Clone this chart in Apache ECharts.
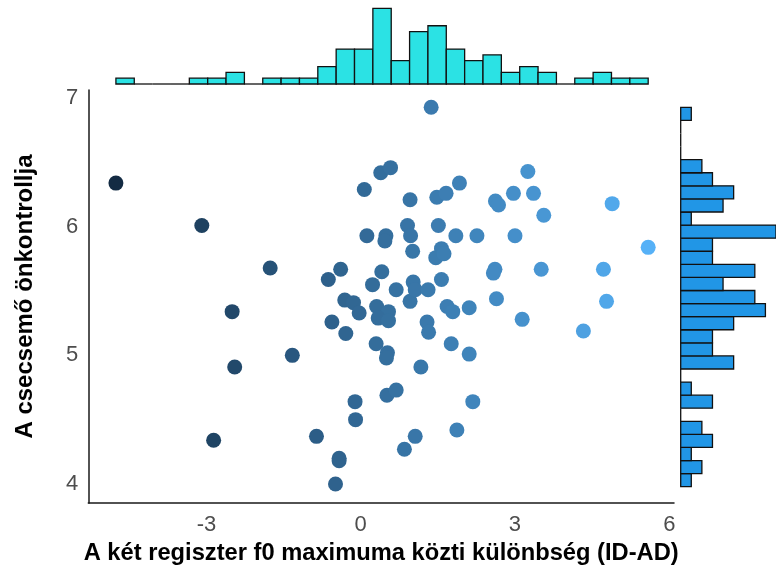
<!DOCTYPE html>
<html><head><meta charset="utf-8">
<script src="https://cdn.jsdelivr.net/npm/echarts@6/dist/echarts.min.js"></script>
<style>html,body{margin:0;padding:0;background:#fff}#c{width:776px;height:570px}</style>
</head><body><div id="c"></div>
<script>
// Difference of f0 maxima between registers (ID-AD)
const xValues = [
  -4.76, -3.09, -1.76, -2.50, -2.45, -1.33, -2.86, -0.86, -0.42, -0.42,
  -0.49, -0.11, -0.10, 0.07, 0.39, 0.58, 0.12, 0.49, -0.39, -0.63,
  0.41, 0.23, -0.31, -0.14, -0.03, -0.56, -0.29, 0.31, 0.54, 0.34,
  0.54, 0.30, 0.52, 0.51, 0.69, 0.96, 1.29, 1.32, 1.68, 1.79,
  2.11, 2.64, 3.14, 4.33, 4.78, 1.76, 2.11, 1.17, 2.18, 1.87,
  1.06, 0.85, 1.37, 0.96, 1.48, 1.66, 1.92, 3.25, 2.62, 2.68,
  2.97, 3.36, 3.56, 4.89, 0.91, 0.97, 1.51, 1.85, 2.26, 3.00,
  1.01, 1.57, 1.46, 1.62, 5.59, 2.61, 2.58, 3.51, 4.72, 1.02,
  1.06, 0.69, 1.31, 1.57, 0.47, 0.50
];
// Infant self-control
const yValues = [
  6.34, 6.01, 5.68, 5.34, 4.91, 5.00, 4.34, 4.37, 4.20, 4.18,
  4.00, 4.64, 4.50, 6.29, 6.42, 6.46, 5.93, 5.93, 5.67, 5.59,
  5.65, 5.55, 5.43, 5.41, 5.33, 5.26, 5.17, 5.38, 5.34, 5.29,
  5.27, 5.09, 5.02, 4.69, 4.73, 5.42, 5.26, 5.18, 5.38, 5.34,
  5.37, 5.44, 5.28, 5.19, 5.42, 5.09, 5.01, 4.91, 4.64, 4.42,
  4.37, 4.27, 6.93, 6.21, 6.23, 6.26, 6.34, 6.43, 6.20, 6.17,
  6.26, 6.26, 6.09, 6.18, 6.01, 5.93, 6.01, 5.93, 5.93, 5.93,
  5.81, 5.83, 5.76, 5.79, 5.84, 5.67, 5.64, 5.67, 5.67, 5.57,
  5.51, 5.51, 5.51, 5.59, 5.89, 4.98
];
const xTickLabels = [-3, 0, 3, 6];
const yTickLabels = [4, 5, 6, 7];
const histBins = 29;
const xTitle = 'A két regiszter f0 maximuma közti különbség (ID-AD)';
const yTitle = 'A csecsemő önkontrollja';

function histogram(values, n) {
  const lo = Math.min(...values), hi = Math.max(...values);
  const w = (hi - lo) / n;
  const counts = new Array(n).fill(0);
  values.forEach(v => {
    let k = Math.floor((v - lo) / w + 1e-9);
    if (k >= n) k = n - 1;
    if (k < 0) k = 0;
    counts[k]++;
  });
  return counts.map((c, i) => [lo + i * w, lo + (i + 1) * w, c]);
}

const xHist = histogram(xValues, histBins);
const yHist = histogram(yValues, histBins);
const xMaxCount = Math.max(...xHist.map(d => d[2]));
const yMaxCount = Math.max(...yHist.map(d => d[2]));
const scatterData = xValues.map((x, i) => [x, yValues[i]]);

const X_MIN = -5.297, X_MAX = 6.092, Y_MIN = 3.851, Y_MAX = 7.064;
const FONT = "'Liberation Sans', Arial, sans-serif";
const EDGE = '#111111';
const LW = 1.3;

const chart = echarts.init(document.getElementById('c'), null, {renderer: 'canvas'});
chart.setOption({
  animation: false,
  backgroundColor: '#ffffff',
  grid: [
    {left: 88.3, top: 90, right: 102, bottom: 64},
    {left: 88.3, top: 8.3, right: 102, height: 75.7},
    {left: 680.7, top: 90, right: -10, bottom: 64}
  ],
  xAxis: [
    {
      type: 'value', gridIndex: 0, min: X_MIN, max: X_MAX,
      axisLine: {show: true, onZero: false, lineStyle: {color: '#1a1a1a', width: 1.5}},
      axisTick: {show: false}, splitLine: {show: false},
      axisLabel: {customValues: xTickLabels, color: '#4D4D4D', fontSize: 22, margin: 11, fontFamily: FONT},
      name: xTitle, nameLocation: 'middle', nameGap: 34,
      nameTextStyle: {fontWeight: 'bold', fontSize: 23.7, color: '#000', fontFamily: FONT}
    },
    {type: 'value', gridIndex: 1, min: X_MIN, max: X_MAX, show: false},
    {type: 'value', gridIndex: 2, min: 0, max: yMaxCount, show: false}
  ],
  yAxis: [
    {
      type: 'value', gridIndex: 0, min: Y_MIN, max: Y_MAX,
      axisLine: {show: true, onZero: false, lineStyle: {color: '#1a1a1a', width: 1.5}},
      axisTick: {show: false}, splitLine: {show: false},
      axisLabel: {customValues: yTickLabels, color: '#4D4D4D', fontSize: 22, margin: 10, fontFamily: FONT},
      name: yTitle, nameLocation: 'middle', nameGap: 51,
      nameTextStyle: {fontWeight: 'bold', fontSize: 24, color: '#000', fontFamily: FONT}
    },
    {type: 'value', gridIndex: 1, min: 0, max: xMaxCount, show: false},
    {type: 'value', gridIndex: 2, min: Y_MIN, max: Y_MAX, show: false}
  ],
  visualMap: {
    type: 'continuous', show: false, seriesIndex: 0, dimension: 0,
    min: Math.min(...xValues), max: Math.max(...xValues),
    inRange: {color: ['#132B43', '#56B1F7']}
  },
  series: [
    {
      type: 'scatter', xAxisIndex: 0, yAxisIndex: 0,
      data: scatterData, symbolSize: 15,
      itemStyle: {opacity: 1}
    },
    {
      type: 'custom', xAxisIndex: 1, yAxisIndex: 1,
      data: xHist, encode: {x: [0, 1], y: 2},
      renderItem: function (params, api) {
        const a = api.coord([api.value(0), api.value(2)]);
        const b = api.coord([api.value(1), 0]);
        if (api.value(2) === 0) {
          return {type: 'rect', shape: {x: a[0], y: b[1] - LW / 2, width: b[0] - a[0], height: LW},
                  style: {fill: EDGE}};
        }
        return {type: 'rect', shape: {x: a[0], y: a[1], width: b[0] - a[0], height: b[1] - a[1]},
                style: {fill: '#2BE2E4', stroke: EDGE, lineWidth: LW}};
      }
    },
    {
      type: 'custom', xAxisIndex: 2, yAxisIndex: 2,
      data: yHist, encode: {y: [0, 1], x: 2},
      renderItem: function (params, api) {
        const a = api.coord([0, api.value(0)]);
        const b = api.coord([api.value(2), api.value(1)]);
        if (api.value(2) === 0) {
          return {type: 'rect', shape: {x: a[0] - LW / 2, y: b[1], width: LW, height: a[1] - b[1]},
                  style: {fill: EDGE}};
        }
        return {type: 'rect', shape: {x: a[0], y: b[1], width: b[0] - a[0], height: a[1] - b[1]},
                style: {fill: '#2196E6', stroke: EDGE, lineWidth: LW}};
      }
    }
  ]
});
</script>
</body></html>
